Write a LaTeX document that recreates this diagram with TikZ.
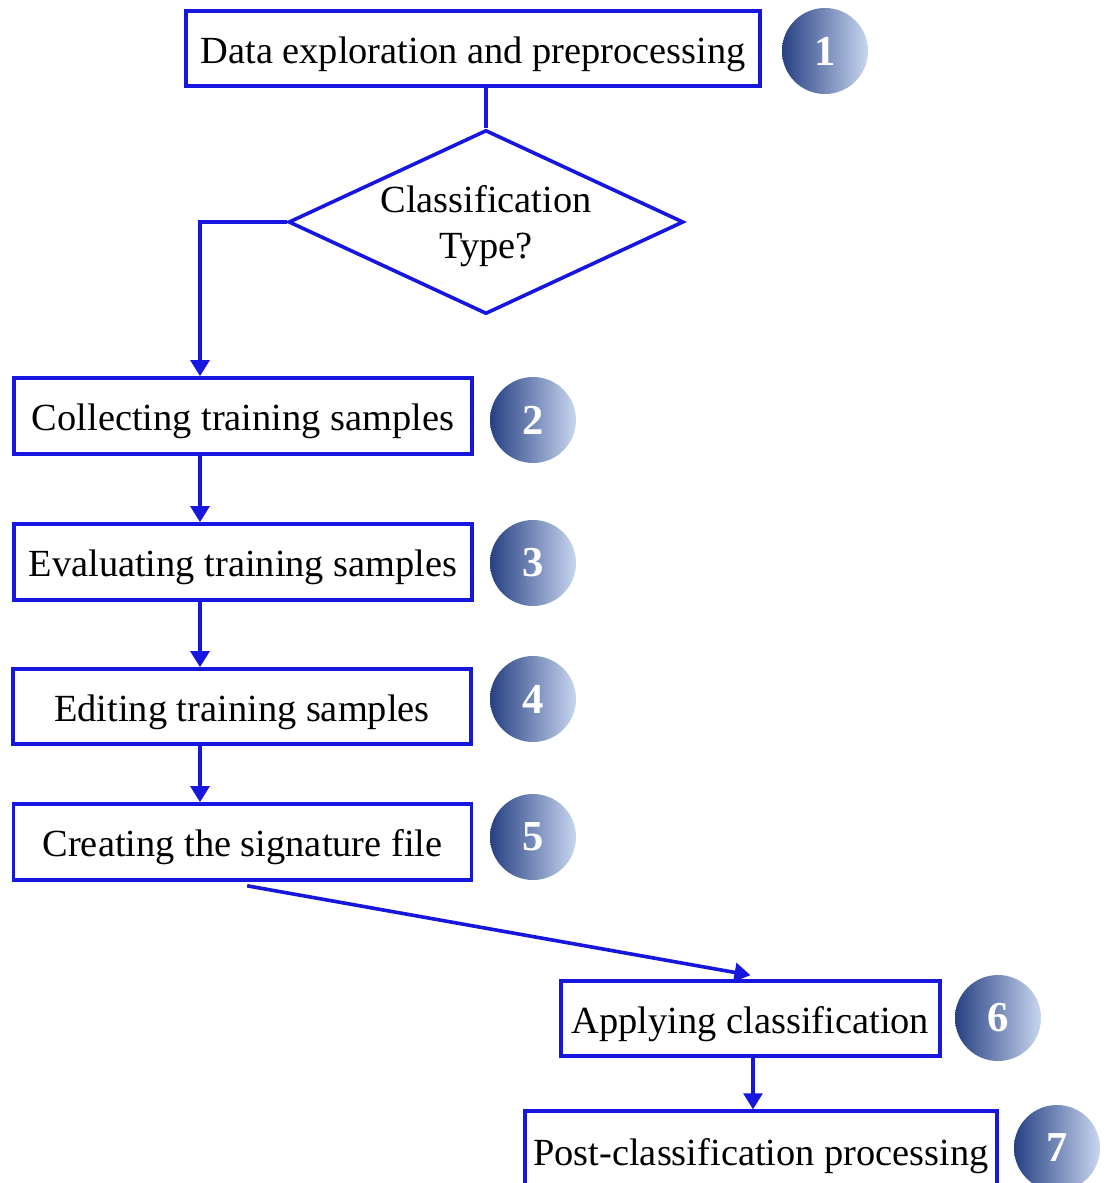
\documentclass[tikz,border=0pt]{standalone}
\usepackage{fontspec}
\setmainfont{Liberation Serif}
\usetikzlibrary{arrows.meta,shapes.geometric}
\definecolor{lineblue}{RGB}{22,22,222}
\definecolor{cdark}{RGB}{38,64,130}
\definecolor{cmid}{RGB}{68,100,166}
\definecolor{clight}{RGB}{200,214,240}
\begin{document}
\begin{tikzpicture}[x=0.75pt,y=-0.75pt,
  every node/.style={font=\fontsize{28.8}{34.5}\selectfont},
  stepbox/.style={draw=lineblue,line width=2.7pt,minimum height=57pt,inner sep=0pt,fill=white,text height=22pt,text depth=0pt},
  decide/.style={draw=lineblue,line width=2.7pt,shape=diamond,aspect=2.147,minimum width=296.25pt,minimum height=138pt,inner sep=0pt,align=center,text depth=0pt},
  badge/.style={circle,minimum size=64.5pt,inner sep=0pt,left color=cdark,middle color=cmid,right color=clight,text=white,font=\fontsize{32}{34}\selectfont\bfseries},
  conn/.style={draw=lineblue,line width=2.7pt},
  arr/.style={conn,-{Triangle[length=12pt,width=14pt]}}]
\useasboundingbox (0,0) rectangle (1107,1183);
\fill[white] (0,0) rectangle (1107,1183);
% boxes
\node[stepbox,minimum width=430.5pt,minimum height=56.25pt] (b1) at (473,48.5) {Data exploration and preprocessing};
\node[decide] (d) at (486,222) {Classification\\Type?};
\node[stepbox,minimum width=343.5pt] (b2) at (243,416) {Collecting training samples};
\node[stepbox,minimum width=343.5pt] (b3) at (243,562) {Evaluating training samples};
\node[stepbox,minimum width=343.5pt,minimum height=56.25pt] (b4) at (242,706.5) {Editing training samples};
\node[stepbox,minimum width=343.5pt] (b5) at (242.5,842) {Creating the signature file};
\node[stepbox,minimum width=284.25pt,minimum height=56.25pt] (b6) at (750.5,1018.5) {Applying classification};
\node[stepbox,minimum width=354pt,minimum height=59pt] (b7) at (761,1150.5) {Post-classification processing};
% badges
\node[badge] (c1) at (825,51) {1};
\node[badge] (c2) at (533,420) {2};
\node[badge] (c3) at (533,563) {3};
\node[badge] (c4) at (533,699) {4};
\node[badge] (c5) at (533,837) {5};
\node[badge] (c6) at (998,1018) {6};
\node[badge] (c7) at (1057,1148) {7};
% connectors
\draw[conn] (b1.south -| d.north) -- (d.north);
\coordinate (k) at (200,222);
\draw[arr] (d.west) -- (k) -- (k |- b2.north);
\draw[arr] (b2.south -| k) -- (b3.north -| k);
\draw[arr] (b3.south -| k) -- (b4.north -| k);
\draw[arr] (b4.south -| k) -- (b5.north -| k);
\draw[arr] ([xshift=3.5pt,yshift=-3pt]b5.south) -- ([yshift=3pt]b6.north);
\draw[arr] (b6.south -| 753,0) -- (b7.north -| 753,0);
\end{tikzpicture}
\end{document}
